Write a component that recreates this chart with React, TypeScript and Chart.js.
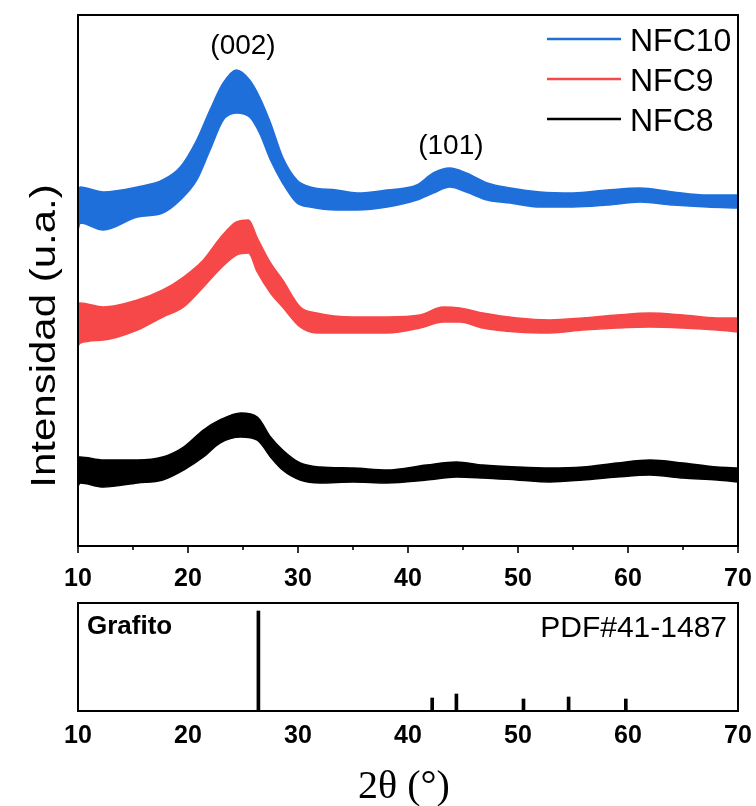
import React, { useEffect, useRef } from "react";
import { Chart, registerables } from "chart.js";
Chart.register(...registerables);

// ---------- data ----------
const seriesNames = ["NFC10", "NFC9", "NFC8"];
const seriesColors = ["#1F6FDB", "#F64848", "#000000"];

// 2θ positions and upper / lower edge of the noisy band (a.u.)
const nfc10Angles = [10, 10.2, 12.3, 15.4, 17.7, 19.3, 20.8, 22.0, 23.2, 24.4, 25.6, 26.5, 27.5, 28.6, 29.9, 31.1, 33.5, 35.4, 38.1, 40.8, 42.3, 43.8, 45.3, 47.2, 49.3, 52.0, 55.0, 58.1, 61.1, 64.1, 67.2, 70];
const nfc10Upper = [356, 359, 354, 359, 366, 379, 406, 436, 463, 476, 466, 449, 423, 389, 366, 359, 356, 353, 356, 361, 373, 378, 373, 363, 358, 354, 353, 356, 358, 354, 351, 351];
const nfc10Lower = [316, 323, 316, 329, 333, 346, 366, 396, 426, 433, 429, 413, 386, 363, 343, 339, 336, 336, 339, 346, 353, 359, 354, 346, 343, 339, 339, 341, 344, 341, 339, 338];

const nfc9Angles = [10, 10.2, 12.3, 15.4, 17.7, 19.6, 21.4, 23.0, 24.4, 25.5, 26.3, 27.5, 28.6, 30.2, 31.7, 35.0, 38.1, 41.1, 43.2, 44.7, 46.8, 49.9, 52.9, 55.9, 59.0, 62.0, 65.0, 68.1, 70];
const nfc9Upper = [243, 243, 239, 246, 256, 269, 286, 309, 324, 326, 308, 283, 266, 239, 233, 229, 229, 231, 239, 238, 233, 228, 226, 228, 231, 233, 231, 228, 228];
const nfc9Lower = [200, 203, 206, 216, 229, 239, 259, 278, 291, 293, 274, 253, 239, 219, 213, 213, 213, 218, 224, 224, 218, 214, 213, 216, 218, 219, 218, 216, 214];

const nfc8Angles = [10, 10.2, 12.3, 15.4, 17.7, 19.6, 21.4, 22.9, 24.8, 26.3, 27.5, 28.6, 30.2, 32.0, 35.0, 38.1, 41.7, 44.4, 46.8, 49.9, 52.9, 55.9, 59.0, 62.0, 65.0, 68.1, 70];
const nfc8Upper = [89, 89, 86, 86, 89, 99, 116, 126, 133, 129, 109, 96, 83, 79, 78, 76, 81, 84, 81, 79, 78, 79, 83, 86, 83, 79, 78];
const nfc8Lower = [60, 63, 59, 63, 66, 76, 89, 103, 109, 106, 89, 76, 66, 63, 64, 63, 66, 69, 68, 66, 64, 66, 69, 71, 68, 66, 64];

const xMajorTicks = [10, 20, 30, 40, 50, 60, 70];
const xMinorTicks = [15, 25, 35, 45, 55, 65];

const peakLabels = ["(002)", "(101)"];
const peakLabelAngles = [25.0, 43.9];
const peakLabelLevels = [492, 392];

// Reference pattern Grafito PDF#41-1487
const refAngles = [26.4, 42.2, 44.4, 50.5, 54.6, 59.8];
const refIntensity = [100, 13, 17, 12, 14, 12];

const SANS = "'Liberation Sans', Arial, sans-serif";
const SERIF = "'Liberation Serif', 'Times New Roman', serif";

const toPts = (xs: number[], ys: number[]) => xs.map((x, i) => ({ x, y: ys[i] }));

export default function App() {
  const topRef = useRef<HTMLCanvasElement | null>(null);
  const botRef = useRef<HTMLCanvasElement | null>(null);

  useEffect(() => {
    const bands = [
      [nfc10Angles, nfc10Upper, nfc10Lower],
      [nfc9Angles, nfc9Upper, nfc9Lower],
      [nfc8Angles, nfc8Upper, nfc8Lower],
    ] as number[][][];

    const datasets: any[] = [];
    bands.forEach((b, i) => {
      datasets.push({
        label: seriesNames[i],
        data: toPts(b[0], b[1]),
        borderColor: seriesColors[i],
        backgroundColor: seriesColors[i],
        borderWidth: 1.5,
        pointRadius: 0,
        fill: "+1",
        cubicInterpolationMode: "monotone",
      });
      datasets.push({
        label: seriesNames[i] + "_low",
        data: toPts(b[0], b[2]),
        borderColor: seriesColors[i],
        backgroundColor: seriesColors[i],
        borderWidth: 1.5,
        pointRadius: 0,
        fill: false,
        cubicInterpolationMode: "monotone",
      });
    });

    const fixPad = (s: any, h: number) => {
      s.height = h;
      s.paddingLeft = 0;
      s.paddingRight = 0;
    };

    const topPlugin = {
      id: "topDecor",
      afterDraw(chart: any) {
        const ctx = chart.ctx;
        const a = chart.chartArea;
        const xs = chart.scales.x;
        const ys = chart.scales.y;
        ctx.save();
        ctx.strokeStyle = "#000";
        ctx.lineWidth = 2;
        ctx.strokeRect(a.left, a.top, a.right - a.left, a.bottom - a.top);
        ctx.lineWidth = 1.6;
        xMajorTicks.forEach((v) => {
          const px = xs.getPixelForValue(v);
          ctx.beginPath();
          ctx.moveTo(px, a.bottom);
          ctx.lineTo(px, a.bottom + 7);
          ctx.stroke();
        });
        xMinorTicks.forEach((v) => {
          const px = xs.getPixelForValue(v);
          ctx.beginPath();
          ctx.moveTo(px, a.bottom);
          ctx.lineTo(px, a.bottom + 4);
          ctx.stroke();
        });
        // peak labels
        ctx.fillStyle = "#000";
        ctx.font = `28px ${SANS}`;
        ctx.textAlign = "center";
        ctx.textBaseline = "alphabetic";
        peakLabels.forEach((t, i) => {
          ctx.fillText(t, xs.getPixelForValue(peakLabelAngles[i]), ys.getPixelForValue(peakLabelLevels[i]));
        });
        // legend
        ctx.font = `32px ${SANS}`;
        ctx.textAlign = "left";
        seriesNames.forEach((n, i) => {
          const y = 39 + i * 40;
          ctx.strokeStyle = seriesColors[i];
          ctx.lineWidth = 2.5;
          ctx.beginPath();
          ctx.moveTo(547, y);
          ctx.lineTo(621, y);
          ctx.stroke();
          ctx.fillStyle = "#000";
          ctx.fillText(n, 630, y + 12);
        });
        // y title
        ctx.save();
        ctx.translate(45, 336);
        ctx.rotate(-Math.PI / 2);
        ctx.scale(1, 0.83);
        ctx.font = `42px ${SANS}`;
        ctx.textAlign = "center";
        ctx.textBaseline = "middle";
        ctx.fillStyle = "#000";
        ctx.fillText("Intensidad (u.a.)", 0, 0);
        ctx.restore();
        ctx.restore();
      },
    };

    const topChart = new Chart(topRef.current as HTMLCanvasElement, {
      type: "line",
      data: { datasets },
      options: {
        animation: false,
        responsive: false,
        devicePixelRatio: 1,
        layout: { padding: { left: 78, right: 18, top: 15, bottom: 0 } },
        plugins: { legend: { display: false }, tooltip: { enabled: false } },
        scales: {
          x: {
            type: "linear",
            min: 10,
            max: 70,
            grid: { display: false },
            border: { display: false },
            ticks: {
              stepSize: 10,
              autoSkip: false,
              maxRotation: 0,
              padding: 10,
              color: "#000",
              font: { family: SANS, size: 25, weight: "bold" },
            },
            afterFit: (s: any) => fixPad(s, 50),
          },
          y: { type: "linear", min: 0, max: 531, display: false },
        },
      } as any,
      plugins: [topPlugin],
    });

    const botPlugin = {
      id: "botDecor",
      afterDraw(chart: any) {
        const ctx = chart.ctx;
        const a = chart.chartArea;
        ctx.save();
        ctx.strokeStyle = "#000";
        ctx.lineWidth = 2;
        ctx.strokeRect(a.left, a.top, a.right - a.left, a.bottom - a.top);
        ctx.fillStyle = "#000";
        ctx.textBaseline = "alphabetic";
        ctx.font = `bold 26px ${SANS}`;
        ctx.textAlign = "left";
        ctx.fillText("Grafito", 87, 38);
        ctx.font = `30px ${SANS}`;
        ctx.textAlign = "right";
        ctx.fillText("PDF#41-1487", 727, 41);
        ctx.font = `40px ${SERIF}`;
        ctx.textAlign = "center";
        ctx.fillText("2\u03B8 (\u00B0)", 404, 202);
        ctx.restore();
      },
    };

    const botChart = new Chart(botRef.current as HTMLCanvasElement, {
      type: "bar",
      data: {
        datasets: [
          {
            label: "Grafito",
            data: toPts(refAngles, refIntensity),
            backgroundColor: "#000",
            borderWidth: 0,
            barThickness: 3,
          },
        ],
      },
      options: {
        animation: false,
        responsive: false,
        devicePixelRatio: 1,
        layout: { padding: { left: 78, right: 18, top: 7, bottom: 0 } },
        plugins: { legend: { display: false }, tooltip: { enabled: false } },
        scales: {
          x: {
            type: "linear",
            min: 10,
            max: 70,
            offset: false,
            grid: { display: false },
            border: { display: false },
            ticks: {
              stepSize: 10,
              autoSkip: false,
              maxRotation: 0,
              padding: 2,
              color: "#000",
              font: { family: SANS, size: 25, weight: "bold" },
            },
            afterFit: (s: any) => fixPad(s, 95),
          },
          y: { type: "linear", min: 0, max: 108, display: false },
        },
      } as any,
      plugins: [botPlugin],
    });

    return () => {
      topChart.destroy();
      botChart.destroy();
    };
  }, []);

  return (
    <div style={{ position: "absolute", left: 0, top: 0, width: 756, height: 806, background: "#fff" }}>
      <canvas ref={topRef} width={756} height={596} style={{ position: "absolute", left: 0, top: 0, width: 756, height: 596 }} />
      <canvas ref={botRef} width={756} height={210} style={{ position: "absolute", left: 0, top: 596, width: 756, height: 210 }} />
    </div>
  );
}
